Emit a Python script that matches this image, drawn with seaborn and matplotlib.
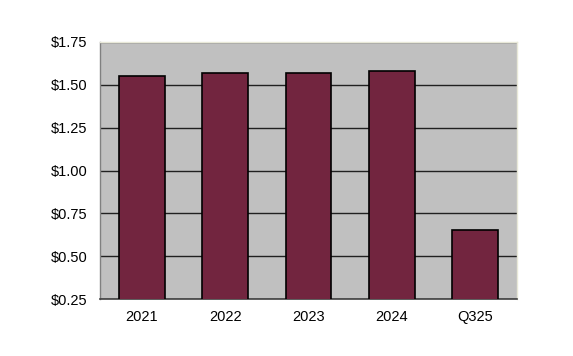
import matplotlib
matplotlib.use("Agg")
import matplotlib.pyplot as plt
import seaborn as sns
import pandas as pd

categories = ["2021", "2022", "2023", "2024", "Q325"]
values = [1.55, 1.57, 1.57, 1.58, 0.65]
yticks = [0.25, 0.50, 0.75, 1.00, 1.25, 1.50, 1.75]
ytick_labels = ["$0.25", "$0.50", "$0.75", "$1.00", "$1.25", "$1.50", "$1.75"]

sns.set_style("white")
plt.rcParams['font.family'] = ['Liberation Sans', 'DejaVu Sans']

df = pd.DataFrame({"cat": categories, "val": values})

fig = plt.figure(figsize=(5.73, 3.56), dpi=100)
ax = fig.add_axes([100/573, 1-299/356, 417/573, 257/356])
ax.set_facecolor("#C0C0C0")

sns.barplot(data=df, x="cat", y="val", ax=ax, color="#72253F", saturation=1,
            width=0.55, edgecolor="black", linewidth=1.2, zorder=3)

ax.set_ylim(0.25, 1.75)
ax.set_xlim(-0.5, 4.5)
ax.set_yticks(yticks)
ax.set_yticklabels(ytick_labels)
ax.yaxis.grid(True, color="#202020", linewidth=1.0, zorder=1)
ax.set_axisbelow(True)
ax.set_xlabel("")
ax.set_ylabel("")
ax.tick_params(axis="both", length=0, labelsize=10.5, colors="black")
ax.tick_params(axis="y", pad=9)
ax.tick_params(axis="x", pad=8)

for s in ["top", "right"]:
    ax.spines[s].set_visible(True)
    ax.spines[s].set_color("#E8E8D8")
    ax.spines[s].set_linewidth(1.0)
ax.spines["left"].set_color("#808080")
ax.spines["left"].set_linewidth(1.0)
ax.spines["bottom"].set_color("#404040")
ax.spines["bottom"].set_linewidth(1.2)

fig.savefig("out.png", dpi=100)
